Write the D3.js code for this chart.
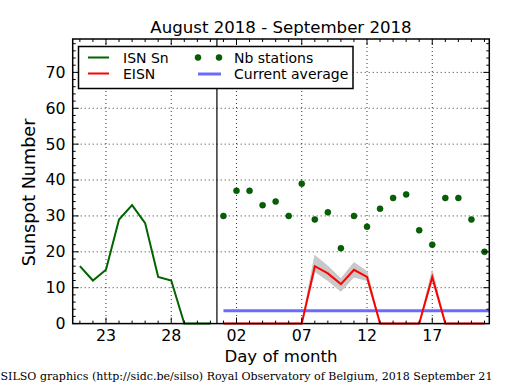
<!DOCTYPE html>
<html><head><meta charset="utf-8">
<script src="https://cdn.jsdelivr.net/npm/d3@7"></script>
<style>
body{margin:0;background:#fff;}
svg{display:block;font-family:"DejaVu Sans",sans-serif;}
</style></head>
<body><svg id="c" width="515" height="390"></svg>
<script>
// day index: 0 = Aug 21, 11 = Sep 1, 31 = Sep 21
const isnDays = [0,1,2,3,4,5,6,7,8,9,10];
const isnValues = [16,12,15,29,33,28,13,12,0,0,0];
const eisnDays = [11,12,13,14,15,16,17,18,19,20,21,22,23,24,25,26,27,28,29,30,31];
const eisnValues = [0,0,0,0,0,0,0,16,14,11,15,13,0,0,0,0,13,0,0,0,0];
const eisnUpper = [0,0,0,0,0,0,0,19,16,12.5,17,14.5,0,0,0,0,14.8,0,0,0,0];
const eisnLower = [0,0,0,0,0,0,0,14.5,12,9,13,12,0,0,0,0,12,0,0,0,0];
const stationDays = [11,12,13,14,15,16,17,18,19,20,21,22,23,24,25,26,27,28,29,30,31];
const stationValues = [30,37,37,33,34,30,39,29,31,21,30,27,32,35,36,26,22,35,35,29,20];
const currentAverage = 3.6;
const tickDays = [2,7,12,17,22,27];
const tickLabels = ["23","28","02","07","12","17"];
const yTicks = [0,10,20,30,40,50,60,70];
const title = "August 2018 - September 2018";
const footer = "SILSO graphics (http://sidc.be/silso) Royal Observatory of Belgium, 2018 September 21";

const L=72.7, R=489.3, T=39, B=323.6;
const svg=d3.select("#c");
const x=d3.scaleLinear().domain([-0.55,31.37]).range([L,R]);
const y=d3.scaleLinear().domain([0,79.3]).range([B,T]);

// grid
const g=svg.append("g");
g.selectAll(".gx").data(tickDays).join("line").attr("x1",d=>x(d)).attr("x2",d=>x(d)).attr("y1",T).attr("y2",B)
 .attr("stroke","#000").attr("stroke-width",0.8).attr("stroke-dasharray","1,3");
g.selectAll(".gy").data(yTicks.slice(1)).join("line").attr("y1",d=>y(d)).attr("y2",d=>y(d)).attr("x1",L).attr("x2",R)
 .attr("stroke","#000").attr("stroke-width",0.8).attr("stroke-dasharray","1,3");

// vertical month separator
svg.append("line").attr("x1",x(10.5)).attr("x2",x(10.5)).attr("y1",T).attr("y2",B).attr("stroke","#000").attr("stroke-width",1.2);

// gray band
const bandData=eisnDays.map((d,i)=>({d,u:eisnUpper[i],l:eisnLower[i]}));
svg.append("path").datum(bandData).attr("d",d3.area().x(p=>x(p.d)).y0(p=>y(p.l)).y1(p=>y(p.u)))
 .attr("fill","#c8c8c8").attr("stroke","#c8c8c8").attr("stroke-width",1);

// current average
svg.append("line").attr("x1",x(11)).attr("x2",R).attr("y1",y(currentAverage)).attr("y2",y(currentAverage))
 .attr("stroke","#6a6aff").attr("stroke-width",3);

// ISN line
svg.append("path").datum(isnDays.map((d,i)=>[d,isnValues[i]]))
 .attr("d",d3.line().x(p=>x(p[0])).y(p=>y(p[1]))).attr("fill","none").attr("stroke","#006400").attr("stroke-width",2);
// EISN
svg.append("path").datum(eisnDays.map((d,i)=>[d,eisnValues[i]]))
 .attr("d",d3.line().x(p=>x(p[0])).y(p=>y(p[1]))).attr("fill","none").attr("stroke","#ff0000").attr("stroke-width",2);

// stations
svg.selectAll(".st").data(stationDays.map((d,i)=>[d,stationValues[i]])).join("circle")
 .attr("cx",p=>x(p[0])).attr("cy",p=>y(p[1])).attr("r",3).attr("fill","#006400").attr("stroke","#003000").attr("stroke-width",0.5);

// frame & ticks
const ax=svg.append("g").attr("stroke","#000");
const minorX=d3.range(0,32);
const minorY=d3.range(0,79,2);
minorX.forEach(d=>{
  const maj=tickDays.includes(d); const len=maj?6:3;
  ax.append("line").attr("x1",x(d)).attr("x2",x(d)).attr("y1",B).attr("y2",B-len).attr("stroke-width",1);
  ax.append("line").attr("x1",x(d)).attr("x2",x(d)).attr("y1",T).attr("y2",T+len).attr("stroke-width",1);
});
minorY.forEach(d=>{
  const maj=d%10===0; const len=maj?6:3;
  ax.append("line").attr("y1",y(d)).attr("y2",y(d)).attr("x1",L).attr("x2",L+len).attr("stroke-width",1);
  ax.append("line").attr("y1",y(d)).attr("y2",y(d)).attr("x1",R).attr("x2",R-len).attr("stroke-width",1);
});
svg.append("rect").attr("x",L).attr("y",T).attr("width",R-L).attr("height",B-T).attr("fill","none").attr("stroke","#000").attr("stroke-width",1.5);

// tick labels
svg.selectAll(".xl").data(tickDays).join("text").attr("x",d=>x(d)).attr("y",341).attr("text-anchor","middle")
 .attr("font-size",15.8).text((d,i)=>tickLabels[i]);
svg.selectAll(".yl").data(yTicks).join("text").attr("x",65.5).attr("y",d=>y(d)+5.4).attr("text-anchor","end")
 .attr("font-size",15.8).text(d=>d);

// titles
svg.append("text").attr("x",(L+R)/2).attr("y",33).attr("text-anchor","middle").attr("font-size",16.6).text(title);
svg.append("text").attr("x",(L+R)/2).attr("y",362).attr("text-anchor","middle").attr("font-size",16.6).text("Day of month");
svg.append("text").attr("transform","translate(35,192.5) rotate(-90)").attr("text-anchor","middle").attr("font-size",17.6).text("Sunspot Number");
svg.append("text").attr("x",0.5).attr("y",380).attr("text-anchor","start").attr("font-size",11.05)
 .attr("font-family","'DejaVu Serif',serif").text(footer);

// legend
const lg=svg.append("g");
lg.append("rect").attr("x",78.5).attr("y",46.5).attr("width",274.5).attr("height",42).attr("fill","#fff").attr("stroke","#000").attr("stroke-width",1.5);
lg.append("line").attr("x1",88).attr("x2",109).attr("y1",57.5).attr("y2",57.5).attr("stroke","#006400").attr("stroke-width",2);
lg.append("line").attr("x1",88).attr("x2",109).attr("y1",73.5).attr("y2",73.5).attr("stroke","#ff0000").attr("stroke-width",2);
lg.append("text").attr("x",123).attr("y",63).attr("font-size",14).text("ISN Sn");
lg.append("text").attr("x",123).attr("y",79).attr("font-size",14).text("EISN");
[198,219].forEach(cx=>lg.append("circle").attr("cx",cx).attr("cy",57.5).attr("r",3).attr("fill","#006400").attr("stroke","#003000").attr("stroke-width",0.5));
lg.append("line").attr("x1",198).attr("x2",221).attr("y1",74).attr("y2",74).attr("stroke","#6a6aff").attr("stroke-width",3);
lg.append("text").attr("x",234).attr("y",63).attr("font-size",14).text("Nb stations");
lg.append("text").attr("x",234).attr("y",79).attr("font-size",14).text("Current average");
</script></body></html>
